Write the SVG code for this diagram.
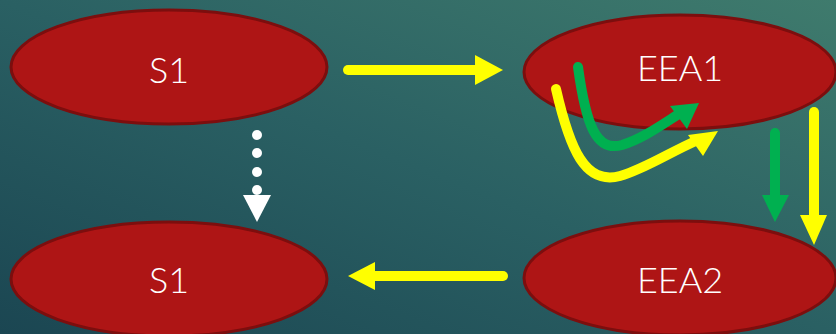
<svg xmlns="http://www.w3.org/2000/svg" width="836" height="334" viewBox="0 0 836 334">
<defs>
<linearGradient id="bg" x1="0" y1="1" x2="1" y2="0">
<stop offset="0" stop-color="#1b4652"/>
<stop offset="0.5" stop-color="#2a6063"/>
<stop offset="1" stop-color="#3f7b6d"/>
</linearGradient>
<style>
.node{fill:#ae1515;stroke:#7c0e0e;stroke-width:3}
.lbl{font-family:"Lato","Liberation Sans",sans-serif;font-weight:300;font-size:36px;fill:#fff;text-anchor:middle}
.y{stroke:#ffff00;stroke-width:10;fill:none;stroke-linecap:round}
.g{stroke:#00b050;stroke-width:10;fill:none;stroke-linecap:round}
.yh{fill:#ffff00}
.gh{fill:#00b050}
</style>
</defs>
<rect width="836" height="334" fill="url(#bg)"/>
<g id="n_s1_top"><ellipse class="node" cx="169" cy="67" rx="158" ry="57"/><text class="lbl" x="169" y="83">S1</text></g>
<g id="n_eea1"><ellipse class="node" cx="680" cy="72" rx="156" ry="57"/><text class="lbl" x="680" y="81">EEA1</text></g>
<g id="n_s1_bottom"><ellipse class="node" cx="169" cy="279" rx="158" ry="57"/><text class="lbl" x="169" y="293">S1</text></g>
<g id="n_eea2"><ellipse class="node" cx="680" cy="278" rx="156" ry="57"/><text class="lbl" x="680" y="293">EEA2</text></g>
<g id="connectors">
<line class="y" x1="348" y1="70" x2="478" y2="70"/>
<polygon class="yh" points="475,55 503,70 475,85"/>
<line class="y" x1="503" y1="276" x2="372" y2="276"/>
<polygon class="yh" points="375,262 348,276 375,290"/>
<g fill="#fff">
<circle cx="257" cy="135" r="5"/>
<circle cx="257" cy="153" r="5"/>
<circle cx="257" cy="172" r="5"/>
<circle cx="257" cy="190" r="5"/>
<polygon points="243,195 271,195 257,222"/>
</g>
<line class="g" x1="775" y1="133" x2="775" y2="198"/>
<polygon class="gh" points="762,195 789,195 775,222"/>
<line class="y" x1="814" y1="112" x2="814" y2="218"/>
<polygon class="yh" points="800,215 827,215 814,245"/>
<path class="g" d="M578,67 C586,125 596,152 622,145 C642,139 660,126 682,112"/>
<polygon class="gh" points="670,106 699,103 687,129"/>
<path class="y" d="M556,89 C570,150 585,185 620,176 C645,169 670,152 698,140"/>
<polygon class="yh" points="688,135 718,131 703,156"/>
</g>
</svg>
